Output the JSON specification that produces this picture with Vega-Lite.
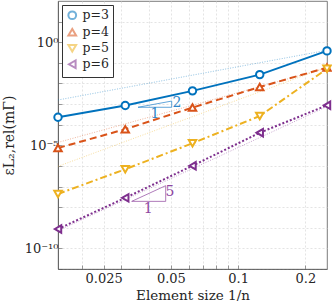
{
  "$schema": "https://vega.github.io/schema/vega-lite/v6.json",
  "width": 269,
  "height": 268,
  "autosize": {"type": "none"},
  "padding": {"left": 58, "top": 1, "right": 5, "bottom": 39},
  "background": "white",
  "config": {
    "view": {"stroke": "#5a5a5a", "strokeWidth": 0.8},
    "font": "DejaVu Serif",
    "axis": {
      "labelFont": "DejaVu Serif",
      "titleFont": "DejaVu Serif",
      "labelColor": "#262626",
      "titleColor": "#262626",
      "domainColor": "#5a5a5a",
      "domainWidth": 0.8,
      "tickColor": "#5a5a5a",
      "tickWidth": 0.6,
      "gridColor": "#d9d9d9",
      "gridDash": [2, 2],
      "gridWidth": 0.7
    }
  },
  "datasets": {
    "series": [
      {"p": "p=3", "h": 0.015625, "err": 2.29e-4},
      {"p": "p=3", "h": 0.03125, "err": 8.5e-4},
      {"p": "p=3", "h": 0.0625, "err": 4.37e-3},
      {"p": "p=3", "h": 0.125, "err": 2.69e-2},
      {"p": "p=3", "h": 0.25, "err": 0.38},
      {"p": "p=4", "h": 0.015625, "err": 7.4e-6},
      {"p": "p=4", "h": 0.03125, "err": 6.03e-5},
      {"p": "p=4", "h": 0.0625, "err": 6.76e-4},
      {"p": "p=4", "h": 0.125, "err": 6.76e-3},
      {"p": "p=4", "h": 0.25, "err": 5.89e-2},
      {"p": "p=5", "h": 0.015625, "err": 4.37e-8},
      {"p": "p=5", "h": 0.03125, "err": 6.92e-7},
      {"p": "p=5", "h": 0.0625, "err": 1.26e-5},
      {"p": "p=5", "h": 0.125, "err": 2.63e-4},
      {"p": "p=5", "h": 0.25, "err": 5.13e-2},
      {"p": "p=6", "h": 0.015625, "err": 8.71e-10},
      {"p": "p=6", "h": 0.03125, "err": 2.82e-8},
      {"p": "p=6", "h": 0.0625, "err": 1.02e-6},
      {"p": "p=6", "h": 0.125, "err": 4.07e-5},
      {"p": "p=6", "h": 0.25, "err": 8.71e-4}
    ],
    "refs": [
      {"p": "p=3", "h": 0.015625, "err": 1.58e-3},
      {"p": "p=3", "h": 0.25, "err": 0.407},
      {"p": "p=4", "h": 0.015625, "err": 1.38e-5},
      {"p": "p=4", "h": 0.25, "err": 5.62e-2},
      {"p": "p=5", "h": 0.015625, "err": 9.55e-7},
      {"p": "p=5", "h": 0.25, "err": 6.31e-2},
      {"p": "p=6", "h": 0.015625, "err": 7.24e-10},
      {"p": "p=6", "h": 0.25, "err": 7.59e-4}
    ],
    "tri": [
      {"t": "a", "o": 1, "h": 0.03564, "err": 7.0e-4},
      {"t": "a", "o": 2, "h": 0.05044, "err": 7.0e-4},
      {"t": "a", "o": 3, "h": 0.05044, "err": 1.40e-3},
      {"t": "a", "o": 4, "h": 0.03564, "err": 7.0e-4},
      {"t": "b", "o": 1, "h": 0.03339, "err": 1.91e-8},
      {"t": "b", "o": 2, "h": 0.04741, "err": 1.91e-8},
      {"t": "b", "o": 3, "h": 0.04741, "err": 1.10e-7},
      {"t": "b", "o": 4, "h": 0.03339, "err": 1.91e-8}
    ],
    "trilabels": [
      {"t": "a", "label": "1", "h": 0.04246, "err": 3.46e-4},
      {"t": "a", "label": "2", "h": 0.0533, "err": 1.18e-3},
      {"t": "b", "label": "1", "h": 0.03964, "err": 8.18e-9},
      {"t": "b", "label": "5", "h": 0.04956, "err": 5.23e-8}
    ]
  },
  "encoding": {
    "x": {
      "field": "h",
      "type": "quantitative",
      "scale": {"type": "log", "domain": [0.015625, 0.25], "nice": false},
      "axis": {
        "title": "Element size 1/n",
        "titleFontSize": 13.5,
        "titleFontWeight": "normal",
        "titlePadding": 3,
        "labelFontSize": 13,
        "labelPadding": 7,
        "tickSize": -4,
        "values": [0.02, 0.025, 0.03, 0.04, 0.05, 0.06, 0.07, 0.08, 0.09, 0.1, 0.2],
        "labelExpr": "abs(datum.value-0.025)<1e-6 ? '0.025' : abs(datum.value-0.05)<1e-6 ? '0.05' : abs(datum.value-0.1)<1e-6 ? '0.1' : abs(datum.value-0.2)<1e-6 ? '0.2' : ''",
        "labelFlush": false
      }
    },
    "y": {
      "field": "err",
      "type": "quantitative",
      "scale": {"type": "log", "domain": [1e-11, 100], "nice": false},
      "axis": {
        "title": "εL₂,rel(mΓ)",
        "titleFontSize": 14,
        "titleFontWeight": "normal",
        "titlePadding": 8,
        "labelFontSize": 13,
        "labelPadding": 4,
        "tickSize": -4,
        "values": [1e-11, 1e-10, 1e-9, 1e-8, 1e-7, 1e-6, 1e-5, 1e-4, 1e-3, 1e-2, 1e-1, 1, 10],
        "labelExpr": "abs(log(datum.value)/LN10) < 0.01 ? '10⁰' : abs(log(datum.value)/LN10 + 5) < 0.01 ? '10⁻⁵' : abs(log(datum.value)/LN10 + 10) < 0.01 ? '10⁻¹⁰' : ''",
        "labelFlush": false
      }
    }
  },
  "layer": [
    {
      "data": {"name": "refs"},
      "mark": {"type": "line", "strokeWidth": 0.8, "strokeDash": [1, 1.5], "opacity": 0.55},
      "encoding": {
        "color": {"field": "p", "type": "nominal"}
      }
    },
    {
      "data": {"name": "tri"},
      "transform": [{"filter": "datum.t == 'a'"}],
      "mark": {"type": "line", "strokeWidth": 0.8, "color": "#3a8fd0"},
      "encoding": {"order": {"field": "o", "type": "quantitative"}}
    },
    {
      "data": {"name": "tri"},
      "transform": [{"filter": "datum.t == 'b'"}],
      "mark": {"type": "line", "strokeWidth": 0.8, "color": "#9a59a8"},
      "encoding": {"order": {"field": "o", "type": "quantitative"}}
    },
    {
      "data": {"name": "trilabels"},
      "transform": [{"filter": "datum.t == 'a'"}],
      "mark": {"type": "text", "fontSize": 14, "font": "DejaVu Serif", "color": "#2f86c8"},
      "encoding": {"text": {"field": "label"}}
    },
    {
      "data": {"name": "trilabels"},
      "transform": [{"filter": "datum.t == 'b'"}],
      "mark": {"type": "text", "fontSize": 14, "font": "DejaVu Serif", "color": "#8e44a0"},
      "encoding": {"text": {"field": "label"}}
    },
    {
      "data": {"name": "series"},
      "transform": [{"filter": "datum.p == 'p=3'"}],
      "mark": {"type": "line", "strokeWidth": 2},
      "encoding": {"color": {"field": "p", "type": "nominal"}}
    },
    {
      "data": {"name": "series"},
      "transform": [{"filter": "datum.p == 'p=4'"}],
      "mark": {"type": "line", "strokeWidth": 2, "strokeDash": [7, 4]},
      "encoding": {"color": {"field": "p", "type": "nominal"}}
    },
    {
      "data": {"name": "series"},
      "transform": [{"filter": "datum.p == 'p=5'"}],
      "mark": {"type": "line", "strokeWidth": 2, "strokeDash": [7, 3, 2, 3]},
      "encoding": {"color": {"field": "p", "type": "nominal"}}
    },
    {
      "data": {"name": "series"},
      "transform": [{"filter": "datum.p == 'p=6'"}],
      "mark": {"type": "line", "strokeWidth": 2, "strokeDash": [2, 2]},
      "encoding": {"color": {"field": "p", "type": "nominal"}}
    },
    {
      "data": {"name": "series"},
      "mark": {"type": "point", "filled": false, "fill": "white", "strokeWidth": 2, "size": 55, "opacity": 1},
      "encoding": {
        "color": {
          "field": "p",
          "type": "nominal",
          "scale": {"domain": ["p=3", "p=4", "p=5", "p=6"], "range": ["#0072BD", "#D95319", "#EDB120", "#7E2F8E"]},
          "legend": {
            "title": null,
            "orient": "top-left",
            "offset": 4,
            "padding": 4,
            "fillColor": "white",
            "strokeColor": "#333333",
            "labelFont": "DejaVu Serif",
            "labelFontSize": 12.5,
            "labelColor": "#262626",
            "labelOffset": 4,
            "symbolSize": 60,
            "symbolStrokeWidth": 2,
            "symbolOpacity": 1,
            "rowPadding": 0
          }
        },
        "shape": {
          "field": "p",
          "type": "nominal",
          "scale": {"domain": ["p=3", "p=4", "p=5", "p=6"], "range": ["circle", "triangle-up", "triangle-down", "triangle-left"]},
          "legend": {
            "title": null,
            "orient": "top-left",
            "offset": 4,
            "padding": 4,
            "fillColor": "white",
            "strokeColor": "#333333",
            "labelFont": "DejaVu Serif",
            "labelFontSize": 12.5,
            "labelColor": "#262626",
            "labelOffset": 4,
            "symbolSize": 60,
            "symbolStrokeWidth": 2,
            "symbolOpacity": 1,
            "rowPadding": 0
          }
        }
      }
    }
  ]
}
